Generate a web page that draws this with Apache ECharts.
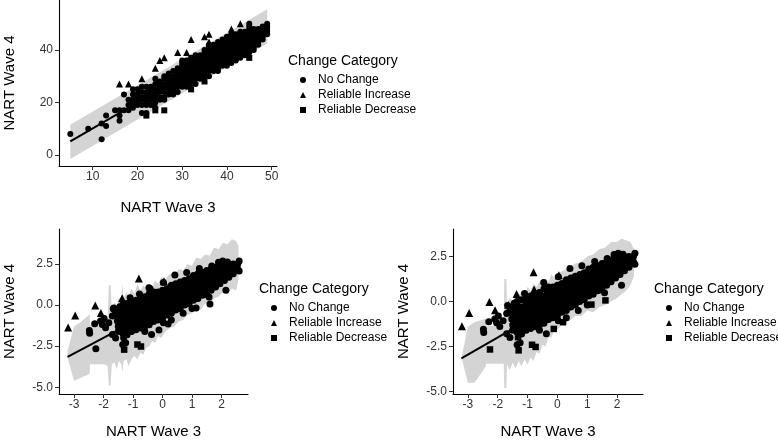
<!DOCTYPE html>
<html><head><meta charset="utf-8">
<script src="https://cdn.jsdelivr.net/npm/echarts@6/dist/echarts.min.js"></script>
<style>html,body{margin:0;padding:0;background:#fff}#c{width:778px;height:443px}</style>
</head><body><div id="c"></div>
<script>
const categories = ['No Change', 'Reliable Increase', 'Reliable Decrease'];
const legendTitle = 'Change Category';
const xTitle = 'NART Wave 3';
const yTitle = 'NART Wave 4';

// ---------- top panel (raw scores) ----------
const topXTicks = [10, 20, 30, 40, 50];
const topYTicks = [0, 20, 40];
// columns: [x, [y values of "No Change" points]]
const topCols = [
  [5, [8]], [9, [10]], [12, [6, 12]], [13, [11, 15]], [15, [17]],
  [16, [13, 15, 17]], [17, [17, 23]], [18, [17, 19, 21]], [19, [18, 20, 21, 23, 25]],
  [20, [19, 20, 22, 23, 25]], [21, [16, 19, 21, 22, 24, 26]], [22, [16, 19, 20, 21, 23, 24, 26]],
  [23, [19, 21, 22, 24, 25, 26]], [24, [18, 20, 22, 23, 25, 27, 29]], [25, [21, 22, 24, 25, 26, 27, 28]],
  [26, [21, 22, 24, 25, 26, 27, 29, 30]], [27, [23, 24, 25, 26, 27, 28, 29, 31]],
  [28, [23, 25, 26, 27, 28, 29, 30, 32]], [29, [24, 26, 27, 28, 29, 30, 31, 32, 33]],
  [30, [26, 27, 28, 29, 30, 31, 32, 33, 34, 35, 36]], [31, [26, 28, 29, 30, 31, 32, 33, 34, 35, 36]],
  [32, [27, 28, 29, 30, 31, 32, 33, 34, 35, 36, 37]], [33, [27, 29, 30, 31, 32, 33, 34, 35, 36, 37, 38]],
  [34, [29, 30, 31, 32, 33, 34, 35, 36, 37, 38]], [35, [30, 31, 32, 33, 34, 35, 36, 37, 38, 39, 40]],
  [36, [30, 32, 33, 34, 35, 36, 37, 38, 39, 40, 41, 42]], [37, [32, 33, 34, 35, 36, 37, 38, 39, 40, 41, 42]],
  [38, [32, 33, 34, 35, 36, 37, 38, 39, 40, 41, 42, 43]], [39, [34, 35, 36, 37, 38, 39, 40, 41, 42, 43, 44]],
  [40, [34, 35, 36, 37, 38, 39, 40, 41, 42, 43, 44, 45]], [41, [35, 36, 37, 38, 39, 40, 41, 42, 43, 44, 45, 46]],
  [42, [36, 37, 38, 39, 40, 41, 42, 43, 44, 45, 46]], [43, [37, 38, 39, 40, 41, 42, 43, 44, 45, 46, 47]],
  [44, [38, 39, 40, 41, 42, 43, 44, 45, 46, 47]], [45, [39, 40, 41, 42, 43, 44, 45, 46, 47, 48, 49, 50]],
  [46, [40, 41, 42, 43, 44, 45, 46, 47, 48]], [47, [42, 43, 44, 45, 46, 47, 48]],
  [48, [44, 45, 46, 47, 48, 49]], [49, [46, 47, 48, 49, 50]]
];
const topIncrease = [[16, 27], [18, 27], [21, 29], [24, 33], [25, 36], [26, 37], [29, 39], [31, 39],
  [32, 44], [35, 45], [36, 46], [36, 43], [41, 48], [43, 50]];
const topDecrease = [[22, 15], [24, 17], [26, 17], [32, 25], [35, 28], [45, 37]];
const topFit = [[5, 5.2], [49, 48.6]];
const topBand = [[5, -1.5, 11.5], [49, 42.5, 55.5]]; // [x, lower, upper]

// ---------- bottom panels (standardised scores) ----------
const botXTicks = [-3, -2, -1, 0, 1, 2];
const botYTicks = [-5, -2.5, 0, 2.5];
const botCols = [
  [-1.5, [-1.6, -1.3, -1.0, -0.7, -0.4]],
  [-1.35, [-1.7, -1.4, -1.1, -0.8, -0.5, -0.2, 0.0]],
  [-1.2, [-1.8, -1.5, -1.2, -0.9, -0.6, -0.3, 0.1]],
  [-1.05, [-1.6, -1.3, -1.0, -0.7, -0.4, -0.1, 0.2]],
  [-0.9, [-1.5, -1.2, -0.9, -0.6, -0.3, 0.0, 0.3]],
  [-0.75, [-1.4, -1.1, -0.8, -0.5, -0.2, 0.1, 0.4]],
  [-0.6, [-1.3, -1.0, -0.7, -0.4, -0.1, 0.2, 0.5]],
  [-0.45, [-1.2, -0.9, -0.6, -0.3, 0.0, 0.3, 0.7]],
  [-0.3, [-1.0, -0.7, -0.4, -0.1, 0.2, 0.5, 0.8]],
  [-0.15, [-0.9, -0.6, -0.3, 0.0, 0.3, 0.6, 0.8]],
  [0.0, [-0.8, -0.5, -0.2, 0.1, 0.4, 0.7, 0.9]],
  [0.15, [-0.6, -0.3, 0.0, 0.3, 0.6, 0.9, 1.0]],
  [0.3, [-0.5, -0.2, 0.1, 0.4, 0.7, 1.0, 1.2]],
  [0.45, [-0.3, 0.0, 0.3, 0.6, 0.9, 1.1, 1.3]],
  [0.6, [-0.2, 0.1, 0.4, 0.7, 1.0, 1.2, 1.4]],
  [0.75, [0.0, 0.3, 0.6, 0.9, 1.2, 1.5]],
  [0.9, [0.1, 0.4, 0.7, 1.0, 1.3, 1.6]],
  [1.05, [0.3, 0.6, 0.9, 1.2, 1.5, 1.8]],
  [1.2, [0.4, 0.7, 1.0, 1.3, 1.6, 1.9]],
  [1.35, [0.6, 0.9, 1.2, 1.5, 1.8, 2.0]],
  [1.5, [0.8, 1.1, 1.4, 1.7, 2.0, 2.1]],
  [1.65, [0.9, 1.2, 1.5, 1.8, 2.2]],
  [1.8, [1.1, 1.4, 1.7, 2.0, 2.3]],
  [1.95, [1.3, 1.6, 1.9, 2.2, 2.4]],
  [2.1, [1.5, 1.8, 2.1, 2.4]],
  [2.25, [1.7, 2.0, 2.3, 2.5]],
  [2.4, [1.9, 2.2, 2.5]],
  [2.55, [2.2, 2.5]]
];
const botScatter = [[-2.48, -1.54], [-2.47, -1.72], [-2.3, -1.13], [-2.1, -0.97], [-2.04, -1.18],
  [-1.98, -0.81], [-1.93, -1.38], [-1.82, -1.07], [-1.7, -0.67], [-1.59, -0.46], [-1.53, -0.97],
  [-1.7, -1.79], [-1.59, -2.0], [-1.36, -1.59], [-1.25, -2.29], [-1.67, -0.22], [-1.45, -0.1],
  [-1.1, 0.45], [-0.91, 0.04], [-0.46, 1.06], [-0.4, 0.76], [-1.03, -0.36], [-0.6, -1.6],
  [-0.37, -1.79], [0.03, -1.07], [-0.37, 0.65], [0.03, 1.37], [0.42, 1.83], [0.82, 1.98],
  [1.25, 2.22], [1.63, 1.98], [1.67, 2.38], [1.44, 0.65], [1.58, 0.49], [2.15, 0.9], [2.04, 2.68],
  [2.38, 1.97], [2.4, 2.38], [2.6, 2.68], [2.6, 2.07], [1.0, -0.2], [0.7, -0.5], [0.3, -0.9],
  [1.9, 2.6], [2.2, 2.62], [-1.35, -2.4]];
const botIncrease = [[-3.2, -1.37], [-2.96, -0.64], [-2.28, -0.03], [-2.09, -0.48], [-1.37, 0.41],
  [-0.8, 1.62], [0.05, 1.45]];
const botDecrease = [[-1.3, -2.71], [-0.85, -2.4], [-0.73, -2.52]];
// points categorised differently in the two lower panels
const leftOnlyCircles = [[-2.26, -2.66], [-1.65, -0.18], [-1.32, -1.98], [-0.78, 0.67], [-0.42, 1.0],
  [-0.12, -1.52], [0.19, -1.15], [1.14, -0.17], [1.61, 0.06]];
const rightExtraIncrease = [[-1.65, -0.18], [-0.78, 0.67], [-0.42, 1.0]];
const rightExtraDecrease = [[-2.26, -2.66], [-1.32, -1.98], [-0.12, -1.52], [0.19, -1.15], [1.14, -0.17], [1.61, 0.06]];
const botFit = [[-3.22, -3.15], [2.5, 2.28]];
const leftBand = [
  [-3.22, -3.2, -2.8], [-3.0, -4.6, -1.3], [-2.75, -4.4, -1.0], [-2.47, -4.2, -0.55], [-2.46, -3.6, -1.2],
  [-2.0, -3.6, -1.2], [-1.86, -3.7, -0.8], [-1.82, -4.9, 1.2], [-1.76, -4.9, 1.2], [-1.72, -3.6, -0.3],
  [-1.62, -3.5, 0.2], [-1.55, -3.9, -0.1], [-1.48, -3.4, 0.5], [-1.4, -3.6, 0.3], [-1.36, -4.1, 1.3],
  [-1.32, -3.4, 0.4], [-1.22, -3.3, 0.8], [-1.15, -3.7, 0.5], [-1.05, -3.3, 1.0], [-0.95, -3.1, 0.7],
  [-0.85, -3.3, 1.3], [-0.75, -2.9, 0.9], [-0.65, -3.0, 1.2], [-0.55, -2.6, 1.0], [-0.45, -2.5, 1.3],
  [-0.35, -2.2, 1.1], [-0.25, -2.3, 1.5], [-0.15, -1.9, 1.3], [-0.05, -2.0, 1.7], [0.1, -1.6, 1.6],
  [0.25, -1.4, 1.9], [0.4, -1.3, 1.8], [0.55, -1.0, 2.2], [0.7, -0.9, 2.1], [0.85, -0.6, 2.5],
  [1.0, -0.5, 2.4], [1.15, -0.2, 2.9], [1.3, -0.3, 2.8], [1.45, 0.1, 3.1], [1.6, 0.0, 3.0],
  [1.75, 0.4, 3.5], [1.9, 0.5, 3.4], [2.05, 0.8, 3.8], [2.2, 0.7, 3.7], [2.35, 1.0, 4.0],
  [2.5, 0.9, 3.9], [2.58, 1.6, 3.6]];
const rightBand = [
  [-3.2, -3.2, -3.0], [-3.0, -4.5, -1.4], [-2.78, -4.5, -1.15], [-2.4, -3.6, -0.95], [-2.39, -3.45, -1.35],
  [-1.8, -3.45, -1.35], [-1.78, -4.8, 1.25], [-1.71, -4.8, 1.25], [-1.69, -3.5, -0.2], [-1.6, -3.8, 0.2],
  [-1.5, -3.4, 0.0], [-1.4, -3.7, 0.5], [-1.3, -3.3, 0.3], [-1.2, -3.6, 0.6], [-1.1, -3.2, 0.4],
  [-1.0, -3.5, 0.8], [-0.9, -3.1, 0.6], [-0.8, -3.3, 1.0], [-0.7, -2.8, 0.8], [-0.6, -2.9, 1.1],
  [-0.5, -2.4, 0.9], [-0.4, -2.5, 1.3], [-0.3, -2.0, 1.1], [-0.2, -2.0, 1.5], [-0.1, -1.6, 1.3],
  [0.05, -1.5, 1.6], [0.2, -1.1, 1.7], [0.4, -1.1, 1.9], [0.6, -0.8, 2.1], [0.8, -0.8, 2.2],
  [1.0, -0.5, 2.5], [1.2, -0.6, 2.6], [1.4, -0.3, 2.9], [1.6, -0.2, 3.0], [1.8, 0.0, 3.3],
  [2.0, 0.2, 3.3], [2.15, 0.4, 3.5], [2.3, 0.6, 3.4], [2.45, 0.9, 3.3], [2.57, 1.4, 2.9]];

// ---------- build ----------
const flat = cols => cols.flatMap(c => c[1].map(y => [c[0], y]));
const topNo = flat(topCols);
const botNo = flat(botCols).concat(botScatter);
const FONT = 'Liberation Sans, Arial, sans-serif';

const grids = [
  {left: 59, top: 0, width: 218, height: 166},
  {left: 59, top: 229, width: 189, height: 165},
  {left: 453, top: 229, width: 190, height: 165}
];
function mkX(i, min, max, ticks, fmt, gap) {
  return {type: 'value', gridIndex: i, min, max, splitLine: {show: false},
    axisLine: {onZero: false, lineStyle: {color: '#000', width: 1.1}},
    axisTick: {customValues: ticks, length: 4, lineStyle: {color: '#333'}},
    axisLabel: {customValues: ticks, color: '#333', fontSize: 12, margin: 5, fontFamily: FONT, formatter: fmt},
    name: xTitle, nameLocation: 'middle', nameGap: gap,
    nameTextStyle: {fontSize: 15, color: '#000', fontFamily: FONT}};
}
function mkY(i, min, max, ticks, fmt) {
  return {type: 'value', gridIndex: i, min, max, splitLine: {show: false},
    axisLine: {onZero: false, lineStyle: {color: '#000', width: 1.1}},
    axisTick: {customValues: ticks, length: 4, lineStyle: {color: '#333'}},
    axisLabel: {customValues: ticks, color: '#333', fontSize: 12, margin: 6, fontFamily: FONT, formatter: fmt},
    name: yTitle, nameLocation: 'middle', nameGap: 42,
    nameTextStyle: {fontSize: 15, color: '#000', fontFamily: FONT}};
}
const f0 = v => String(v);
const f1 = v => v.toFixed(1);

function band(b, i) {
  return {type: 'custom', xAxisIndex: i, yAxisIndex: i, silent: true, clip: true, z: 1, data: [0],
    renderItem: function (params, api) {
      const pts = [];
      b.forEach(p => pts.push(api.coord([p[0], p[2]])));
      for (let k = b.length - 1; k >= 0; k--) pts.push(api.coord([b[k][0], b[k][1]]));
      return {type: 'polygon', shape: {points: pts}, style: {fill: '#d4d4d4'}};
    }};
}
function fit(d, i) {
  return {type: 'line', xAxisIndex: i, yAxisIndex: i, data: d, symbol: 'none', silent: true, z: 2,
    lineStyle: {color: '#000', width: 2}};
}
function pts(name, d, i, sym, size) {
  return {type: 'scatter', name, xAxisIndex: i, yAxisIndex: i, data: d, symbol: sym, symbolSize: size,
    itemStyle: {color: '#000', opacity: 1}, z: 3, silent: true};
}
function legend(left, top) {
  return {data: categories, orient: 'vertical', left, top, itemWidth: 6, itemHeight: 6, itemGap: 3,
    symbolKeepAspect: true, selectedMode: false,
    textStyle: {fontSize: 12, color: '#000', fontFamily: FONT, lineHeight: 12, padding: [0, 0, 0, 7]}};
}
function ltitle(left, top) {
  return {text: legendTitle, left, top, padding: 0,
    textStyle: {fontSize: 14, fontWeight: 'normal', color: '#000', fontFamily: FONT}};
}

const option = {
  animation: false,
  backgroundColor: '#fff',
  grid: grids,
  xAxis: [mkX(0, 2.47, 51.2, topXTicks, f0, 34), mkX(1, -3.51, 2.9, botXTicks, f0, 30), mkX(2, -3.5, 2.87, botXTicks, f0, 30)],
  yAxis: [mkY(0, -4.2, 59.05, topYTicks, f0), mkY(1, -5.41, 4.63, botYTicks, f1), mkY(2, -5.13, 4.02, botYTicks, f1)],
  title: [ltitle(288, 54), ltitle(259, 282), ltitle(654, 282)],
  legend: [legend(295, 69), legend(266, 297), legend(661, 297)],
  series: [
    band(topBand, 0), fit(topFit, 0),
    pts(categories[0], topNo, 0, 'circle', 6),
    pts(categories[1], topIncrease, 0, 'triangle', 7),
    pts(categories[2], topDecrease, 0, 'rect', 6),
    band(leftBand, 1), fit(botFit, 1),
    pts(categories[0], botNo.concat(leftOnlyCircles), 1, 'circle', 7),
    pts(categories[1], botIncrease, 1, 'triangle', 8),
    pts(categories[2], botDecrease, 1, 'rect', 6.5),
    band(rightBand, 2), fit(botFit, 2),
    pts(categories[0], botNo, 2, 'circle', 7),
    pts(categories[1], botIncrease.concat(rightExtraIncrease), 2, 'triangle', 8),
    pts(categories[2], botDecrease.concat(rightExtraDecrease), 2, 'rect', 6.5)
  ]
};
const chart = echarts.init(document.getElementById('c'), null, {renderer: 'canvas'});
chart.setOption(option);
</script></body></html>
